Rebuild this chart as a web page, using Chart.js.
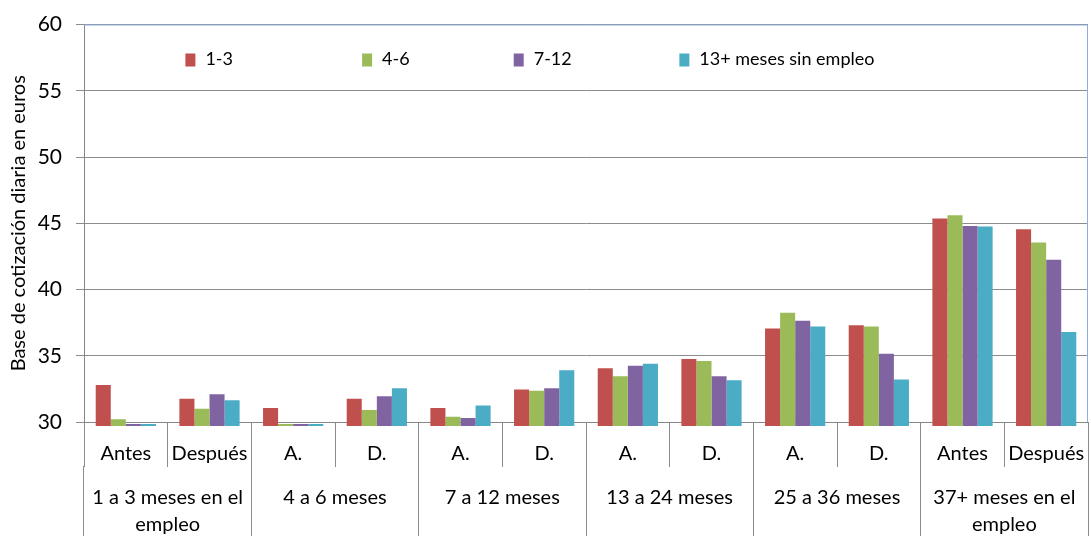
<!DOCTYPE html>
<html>
<head>
<meta charset="utf-8">
<script src="https://cdn.jsdelivr.net/npm/chart.js@4.4.0/dist/chart.umd.min.js"></script>
<style>
body { margin: 0; background: #fff; }
#wrap { width: 1091px; height: 536px; }
</style>
</head>
<body>
<div id="wrap"><canvas id="mycanvas" width="1091" height="536"></canvas></div>
<script>
// data
var subLabels = ["Antes", "Después", "A.", "D.", "A.", "D.", "A.", "D.", "A.", "D.", "Antes", "Después"];
var groupLabels = [["1 a 3 meses en el", "empleo"], "4 a 6 meses", "7 a 12 meses", "13 a 24 meses", "25 a 36 meses", ["37+ meses en el", "empleo"]];
var seriesNames = ["1-3", "4-6", "7-12", "13+ meses sin empleo"];
var values1to3 = [32.8, 31.75, 31.05, 31.75, 31.05, 32.45, 34.05, 34.75, 37.05, 37.3, 45.35, 44.55];
var values4to6 = [30.2, 31.0, 29.85, 30.9, 30.4, 32.35, 33.45, 34.6, 38.25, 37.2, 45.6, 43.55];
var values7to12 = [29.85, 32.1, 29.85, 31.95, 30.3, 32.55, 34.25, 33.45, 37.65, 35.15, 44.8, 42.25];
var values13plus = [29.85, 31.65, 29.85, 32.55, 31.25, 33.9, 34.4, 33.15, 37.2, 33.2, 44.75, 36.8];
var yTicks = [30, 35, 40, 45, 50, 55, 60];
var yTitle = "Base de cotización diaria en euros";

var colors = ["#C0504D", "#9BBB59", "#8064A2", "#4BACC6"];
var allSeries = [values1to3, values4to6, values7to12, values13plus];

Chart.defaults.font.family = 'Lato, "Open Sans", sans-serif';
Chart.defaults.color = "#000";

// legend sits inside the plot area, like the original
var insideLegend = {
    id: "insideLegend",
    afterDraw: function (chart)
    {
        var ctx = chart.ctx;
        var area = chart.chartArea;
        var slots = [0.101, 0.277, 0.428, 0.593];
        var y = area.top + 35;
        ctx.save();
        ctx.font = "18px Lato, 'Open Sans', sans-serif";
        ctx.textBaseline = "middle";
        for (var i = 0; i < chart.data.datasets.length; i++) {
            var x = area.left + slots[i] * area.width;
            ctx.fillStyle = chart.data.datasets[i].backgroundColor;
            ctx.fillRect(x, y - 6, 10, 13);
            ctx.fillStyle = "#000";
            ctx.fillText(chart.data.datasets[i].label, x + 20, y);
        }
        // plot area frame, top and right
        ctx.strokeStyle = "#8eaee0";
        ctx.lineWidth = 1;
        ctx.beginPath();
        ctx.moveTo(area.left, area.top + 0.5);
        ctx.lineTo(area.right - 0.5, area.top + 0.5);
        ctx.lineTo(area.right - 0.5, area.bottom);
        ctx.stroke();
        ctx.restore();
    }
};

var datasets = [];
for (var i = 0; i < seriesNames.length; i++) {
    datasets.push({
        label: seriesNames[i],
        data: allSeries[i],
        backgroundColor: colors[i],
        borderWidth: 0,
        xAxisID: "x",
        clip: 4,
        categoryPercentage: 0.72,
        barPercentage: 1.0
    });
}

var ctx = document.getElementById("mycanvas");
window.myGraph = new Chart(ctx, {
    type: "bar",
    data: { labels: subLabels, datasets: datasets },
    plugins: [insideLegend],
    options: {
        responsive: false,
        animation: false,
        layout: { padding: { top: 0, right: 3, left: 0, bottom: 0 } },
        plugins: {
            legend: { display: false },
            tooltip: { enabled: false }
        },
        scales: {
            y: {
                min: yTicks[0],
                max: yTicks[yTicks.length - 1],
                ticks: { stepSize: 5, padding: 14, font: { size: 21, lineHeight: 1.0 } },
                grid: { color: "#8c8c8c", tickLength: 8 },
                border: { color: "#868686" },
                title: { display: true, text: yTitle, font: { size: 20 }, padding: { top: 7, bottom: 4 } },
                afterFit: function (scale) { scale.width = 84; }
            },
            x: {
                position: "bottom",
                weight: 0,
                offset: true,
                ticks: { autoSkip: false, maxRotation: 0, padding: -25, font: { size: 20 } },
                grid: { offset: true, drawOnChartArea: false, tickLength: 45, color: "#8c8c8c" },
                border: { display: true, color: "#868686" },
                afterFit: function (scale) { scale.height = 44; }
            },
            x2: {
                type: "category",
                position: "bottom",
                weight: 1,
                labels: groupLabels,
                offset: true,
                ticks: { autoSkip: false, maxRotation: 0, padding: -52, font: { size: 20, lineHeight: 1.35 } },
                grid: { offset: true, drawOnChartArea: false, tickLength: 70, color: "#8c8c8c" },
                border: { display: false },
                afterFit: function (scale) { scale.height = 70; }
            }
        }
    }
});
</script>
</body>
</html>
